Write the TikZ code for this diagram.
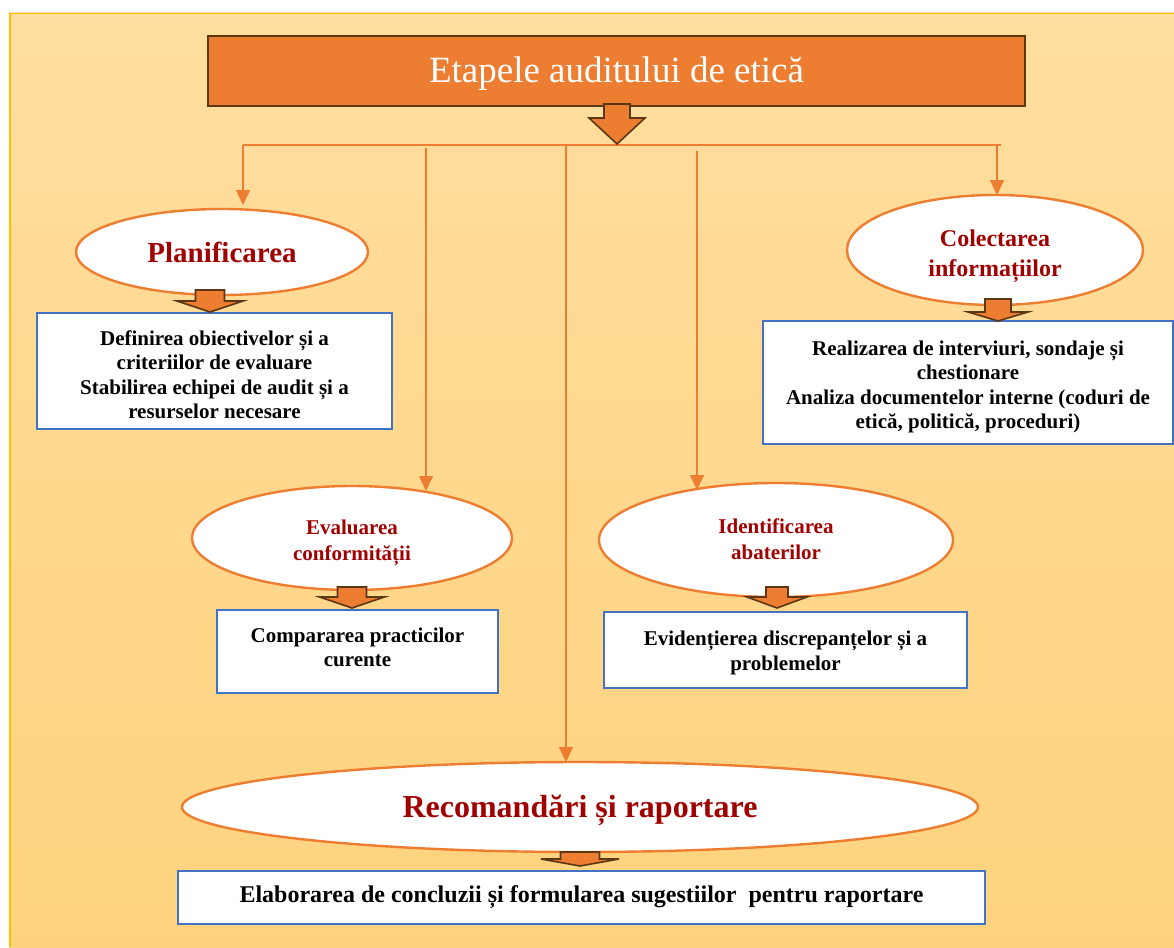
\documentclass[tikz,border=0pt]{standalone}
\usepackage{fontspec}
\setmainfont{Liberation Serif}
\usetikzlibrary{shapes.geometric,arrows.meta}
\definecolor{orng}{HTML}{ED7D31}
\definecolor{brwn}{HTML}{5C3714}
\definecolor{dred}{HTML}{A00000}
\definecolor{bblue}{HTML}{4472C4}
\definecolor{goldc}{HTML}{FFC000}
\definecolor{bgtop}{HTML}{FFDE9F}
\definecolor{bgbot}{HTML}{FFD37E}
\newcommand\blkarrow[6]{%
  \draw[blockarr] (#1-#3,#2) -- (#1-#3,#4) -- (#1-#5,#4) -- (#1,#6) -- (#1+#5,#4) -- (#1+#3,#4) -- (#1+#3,#2) -- cycle;}
\newcommand\tbx[2]{\raisebox{#1}[\height][\depth]{\begin{tabular}{@{}c@{}}#2\end{tabular}}}
\newcommand\shft[2]{\raisebox{#1}[\height][\depth]{#2}}
\tikzset{
  blockarr/.style={fill=orng, draw=brwn, line width=1.6pt, line join=miter},
  ell/.style={ellipse, draw=orng, line width=2.4pt, fill=white, inner sep=0pt, text=dred, align=center},
  bx/.style={rectangle, draw=bblue, line width=2.4pt, fill=white, inner sep=0pt, align=center,
             font=\fontsize{21}{24.5}\selectfont\bfseries},
  conn/.style={draw=orng, line width=1.4pt},
  connarr/.style={conn, -{Triangle[width=14pt,length=15pt]}}
}
\begin{document}
\begin{tikzpicture}[x=1pt,y=-1pt]
\useasboundingbox (0,0) rectangle (1174,947);
\fill[white] (0,0) rectangle (1174,947);
% background panel
\shade[top color=bgtop, bottom color=bgbot] (9,13) rectangle (1174,947);
\draw[goldc, line width=1.8pt] (9.6,947) -- (9.6,13.6) -- (1174,13.6);

% title banner
\node[rectangle, fill=orng, draw=brwn, line width=2pt, minimum width=817pt, minimum height=70pt, inner sep=0pt,
      text=white, font=\fontsize{37}{40}\selectfont] (title) at (616.5,71) {\shft{-3pt}{Etapele auditului de etică}};

% ellipses
\node[ell, minimum width=292pt, minimum height=86pt, font=\fontsize{29}{32}\selectfont\bfseries] (plan) at (222,252) {Planificarea};
\node[ell, minimum width=296pt, minimum height=110pt, font=\fontsize{24}{30}\selectfont\bfseries] (colect) at (995,250) {\tbx{-5.5pt}{Colectarea\\informațiilor}};
\node[ell, minimum width=320pt, minimum height=104pt, font=\fontsize{21}{26}\selectfont\bfseries] (eval) at (352,538) {\tbx{-4pt}{Evaluarea\\conformității}};
\node[ell, minimum width=354pt, minimum height=114pt, font=\fontsize{21}{26}\selectfont\bfseries] (ident) at (776,540) {\tbx{-1.5pt}{Identificarea\\abaterilor}};
\node[ell, minimum width=796pt, minimum height=90pt, font=\fontsize{32}{35}\selectfont\bfseries] (recom) at (580,807) {\shft{-3pt}{Recomandări și raportare}};

% boxes
\node[bx, minimum width=355pt, minimum height=116pt] (b1) at (214.5,371) {\tbx{-6pt}{Definirea obiectivelor și a\\criteriilor de evaluare\\Stabilirea echipei de audit și a\\resurselor necesare}};
\node[bx, minimum width=410pt, minimum height=123pt] (b2) at (968,382.5) {\tbx{-4.5pt}{Realizarea de interviuri, sondaje și\\chestionare\\Analiza documentelor interne (coduri de\\etică, politică, proceduri)}};
\node[bx, minimum width=281pt, minimum height=83pt] (b3) at (357.5,651.5) {\tbx{2pt}{Compararea practicilor\\curente}};
\node[bx, minimum width=363pt, minimum height=76pt] (b4) at (785.5,650) {\tbx{-3pt}{Evidențierea discrepanțelor și a\\problemelor}};
\node[bx, minimum width=807pt, minimum height=53pt, font=\fontsize{24}{27}\selectfont\bfseries] (b5) at (581.5,897.5) {Elaborarea de concluzii și formularea sugestiilor~ pentru raportare};

% bus and connectors
\coordinate (busL) at (243,145);
\coordinate (busR) at (1001,145);
\draw[conn] (busL) -- (busR);
\coordinate (s1) at (243,145);
\coordinate (s2) at (426,148);
\coordinate (s3) at (566,146);
\coordinate (s4) at (697,151);
\coordinate (s5) at (997,145);
\coordinate (t1) at (243,205);
\coordinate (t2) at (426,491);
\coordinate (t3) at (566,762);
\coordinate (t4) at (697,490);
\coordinate (t5) at (997,195);
\draw[connarr] (s1) -- (t1);
\draw[connarr] (s2) -- (t2);
\draw[connarr] (s3) -- (t3);
\draw[connarr] (s4) -- (t4);
\draw[connarr] (s5) -- (t5);

% block arrows
\blkarrow{617}{104}{13}{118}{28}{144}
\blkarrow{210}{290}{14.5}{301}{33}{312}
\blkarrow{998}{299}{13}{312}{30}{321}
\blkarrow{352}{587}{14.5}{597}{32.5}{608}
\blkarrow{777}{587}{11}{597}{30}{608}
\blkarrow{580}{852}{19.5}{859}{39}{866}
\end{tikzpicture}
\end{document}
